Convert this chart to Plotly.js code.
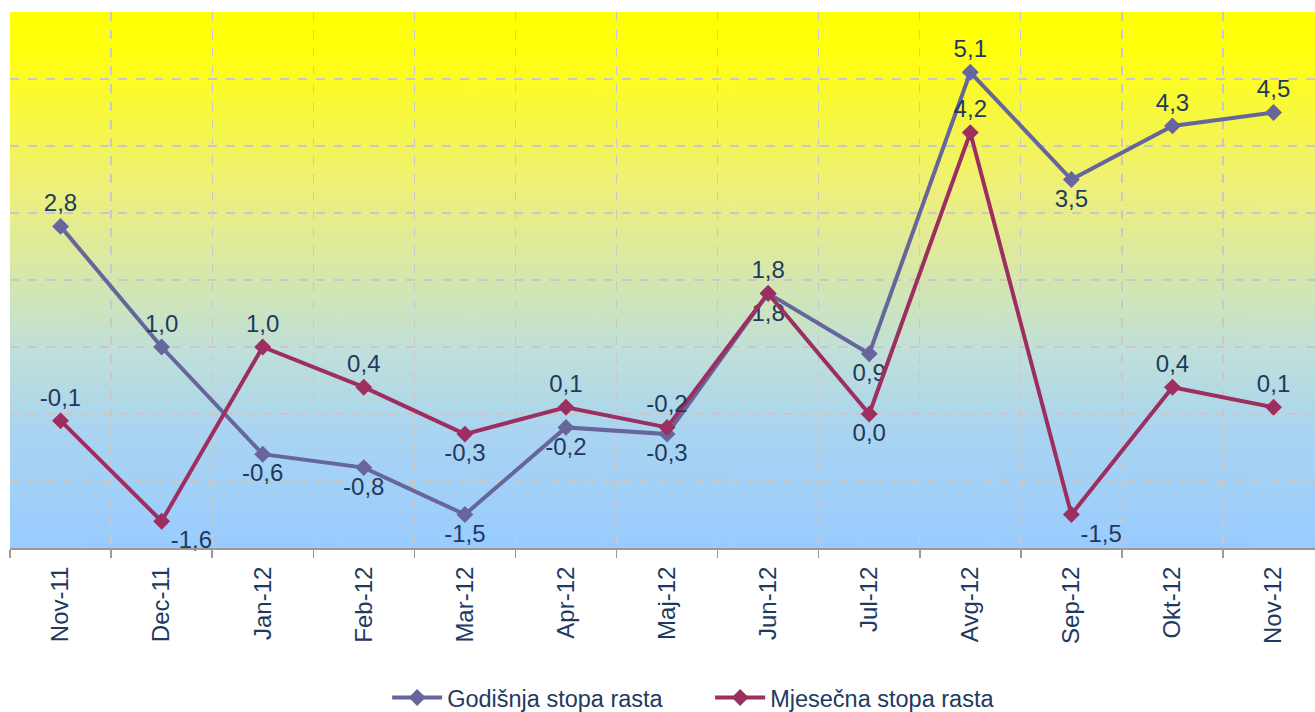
<!DOCTYPE html>
<html>
<head>
<meta charset="utf-8">
<script src="https://cdn.plot.ly/plotly-3.0.1.min.js"></script>
<style>
html,body{margin:0;padding:0;background:#fff;}
#chart{width:1315px;height:712px;}
</style>
</head>
<body>
<div id="chart"></div>
<script>
const categories = ["Nov-11","Dec-11","Jan-12","Feb-12","Mar-12","Apr-12","Maj-12","Jun-12","Jul-12","Avg-12","Sep-12","Okt-12","Nov-12"];
const annualName = "Godišnja stopa rasta";
const monthlyName = "Mjesečna stopa rasta";
const annualValues = [2.8, 1.0, -0.6, -0.8, -1.5, -0.2, -0.3, 1.8, 0.9, 5.1, 3.5, 4.3, 4.5];
const monthlyValues = [-0.1, -1.6, 1.0, 0.4, -0.3, 0.1, -0.2, 1.8, 0.0, 4.2, -1.5, 0.4, 0.1];

const annualPos = ["top center","top center","bottom center","bottom center","bottom center","bottom center","bottom center","bottom center","bottom center","top center","bottom center","top center","top center"];
const monthlyPos = ["top center","bottom right","top center","top center","bottom center","top center","top center","top center","bottom center","top center","bottom right","top center","top center"];

// gradient background image
const cv = document.createElement("canvas");
cv.width = 10; cv.height = 536;
const ctx = cv.getContext("2d");
const g = ctx.createLinearGradient(0,0,0,536);
g.addColorStop(0.00,"#FFFF00");
g.addColorStop(0.08,"#FFFF10");
g.addColorStop(0.18,"#F8F83A");
g.addColorStop(0.33,"#EEF07A");
g.addColorStop(0.48,"#D8E8A8");
g.addColorStop(0.63,"#C0E0D8");
g.addColorStop(0.78,"#AAD4F0");
g.addColorStop(1.00,"#99CCFF");
ctx.fillStyle = g;
ctx.fillRect(0,0,10,536);
const bgURL = cv.toDataURL("image/png");

const labelFont = {family:"Arial, 'Liberation Sans', sans-serif", size:24, color:"#1F3A60"};

const traces = [
  {
    x: categories, y: annualValues, name: annualName, type:"scatter", mode:"lines+markers+text",
    line:{color:"#66669C", width:4},
    marker:{symbol:"diamond", size:13, color:"#66669C"},
    texttemplate:"%{y:.1f}", textposition: annualPos, textfont: labelFont,
    cliponaxis:false
  },
  {
    x: categories, y: monthlyValues, name: monthlyName, type:"scatter", mode:"lines+markers+text",
    line:{color:"#9C2F60", width:4},
    marker:{symbol:"diamond", size:13, color:"#9C2F60"},
    texttemplate:"%{y:.1f}", textposition: monthlyPos, textfont: labelFont,
    cliponaxis:false
  }
];

const layout = {
  width:1315, height:712,
  margin:{l:10, r:0, t:12, b:164},
  paper_bgcolor:"#ffffff",
  plot_bgcolor:"rgba(0,0,0,0)",
  separators:",.",
  showlegend:true,
  font:{family:"Arial, 'Liberation Sans', sans-serif", color:"#1F3A60"},
  images:[{source:bgURL, xref:"paper", yref:"paper", x:0, y:1, sizex:1, sizey:1, sizing:"stretch", xanchor:"left", yanchor:"top", layer:"below"}],
  xaxis:{
    type:"category", range:[-0.5, 12.41], tickson:"boundaries", automargin:false,
    tickangle:-90, ticks:"outside", ticklen:8, tickcolor:"#999999", tickwidth:1.5,
    ticklabelstandoff:7,
    showline:true, linecolor:"#999999", linewidth:2,
    showgrid:true, gridcolor:"#C8C8C8", griddash:"dash", gridwidth:1.3,
    tickfont:{size:24, color:"#1F3A60"}, fixedrange:true
  },
  yaxis:{
    range:[-2, 6], dtick:1, showticklabels:false, ticks:"", automargin:false,
    showgrid:true, gridcolor:"#C8C8C8", griddash:"dash", gridwidth:1.3,
    zeroline:false, showline:false, fixedrange:true
  },
  legend:{orientation:"h", x:0.289, xanchor:"left", xref:"paper", yref:"container", y:0.02, yanchor:"middle",
    itemwidth:50, entrywidth:258, entrywidthmode:"pixels",
    font:{size:23.5, color:"#1F3A60"}, bgcolor:"rgba(0,0,0,0)"}
};

Plotly.newPlot("chart", traces, layout, {displayModeBar:false, staticPlot:true});
</script>
</body>
</html>
